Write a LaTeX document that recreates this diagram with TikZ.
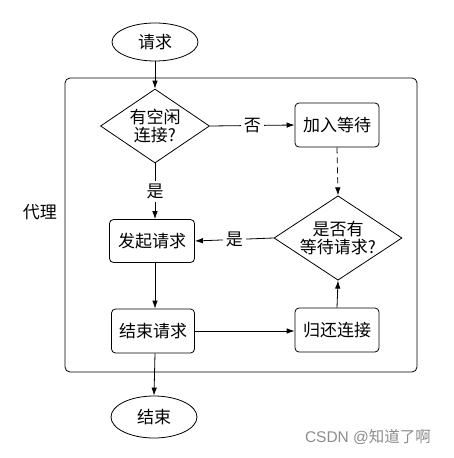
\documentclass[tikz,border=0pt]{standalone}
\usepackage{fontspec}
\setmainfont{Noto Sans CJK SC}
\newfontfamily\wmfont{Liberation Sans}
\usetikzlibrary{shapes.geometric,arrows.meta}
\begin{document}
\begin{tikzpicture}[x=1pt,y=-1pt,
  font=\fontsize{17}{20}\selectfont,
  line width=0.8pt,
  arr/.style={-{Latex[length=8pt,width=5.5pt]}},
  term/.style={draw,ellipse,minimum width=86pt,minimum height=38pt,inner sep=0pt},
  proc/.style={draw,rounded corners=4pt,minimum width=84pt,minimum height=44pt,inner sep=0pt},
  decide/.style={draw,diamond,shape aspect=1.5,inner sep=0pt,align=center,font=\fontsize{17}{18}\selectfont},
  lbl/.style={fill=white,inner sep=3pt},
  frame/.style={draw,rounded corners=5pt,minimum width=352pt,minimum height=294pt,inner sep=0pt}
]
\useasboundingbox (0,0) rectangle (453,458);
\node[frame] (proxy) at (241,225) {};
\node (proxylbl) at (40,212) {代理};
\node[term] (req) at (155,42) {请求};
\node[decide,minimum width=109pt,minimum height=74pt] (d1) at (155,126) {有空闲\\连接?};
\node[proc] (wait) at (337,125) {加入等待};
\node[decide,minimum width=128pt,minimum height=79pt] (d2) at (338,238) {是否有\\等待请求?};
\node[proc,minimum width=85pt,minimum height=43pt] (start) at (152,241) {发起请求};
\node[proc,minimum width=83pt] (finish) at (153,331) {结束请求};
\node[proc] (ret) at (337,330) {归还连接};
\node[term,minimum height=42pt] (endn) at (154,417) {结束};
\node[text=black!45,font=\fontsize{15.5}{17}\selectfont] (wm) at (368,437) {{\wmfont CSDN @}知道了啊};

\draw[arr] (req) -- (d1);
\draw[arr] (d1.east) -- node[lbl]{否} (wait.west);
\draw[arr] (d1.south) -- node[lbl]{是} (d1.south |- start.north);
\draw[arr,dashed,dash pattern=on 6pt off 4pt] (wait.south) -- (d2.north);
\draw[arr] (d2.west) -- node[lbl]{是} (start.east);
\draw[arr] (d1.south |- start.south) -- (d1.south |- finish.north);
\draw[arr] (finish.east) -- (finish.east -| ret.west);
\draw[arr] (ret.north) -- (d2.south);
\draw[arr] (d1.south |- finish.south) -- (endn.north);
\end{tikzpicture}
\end{document}
